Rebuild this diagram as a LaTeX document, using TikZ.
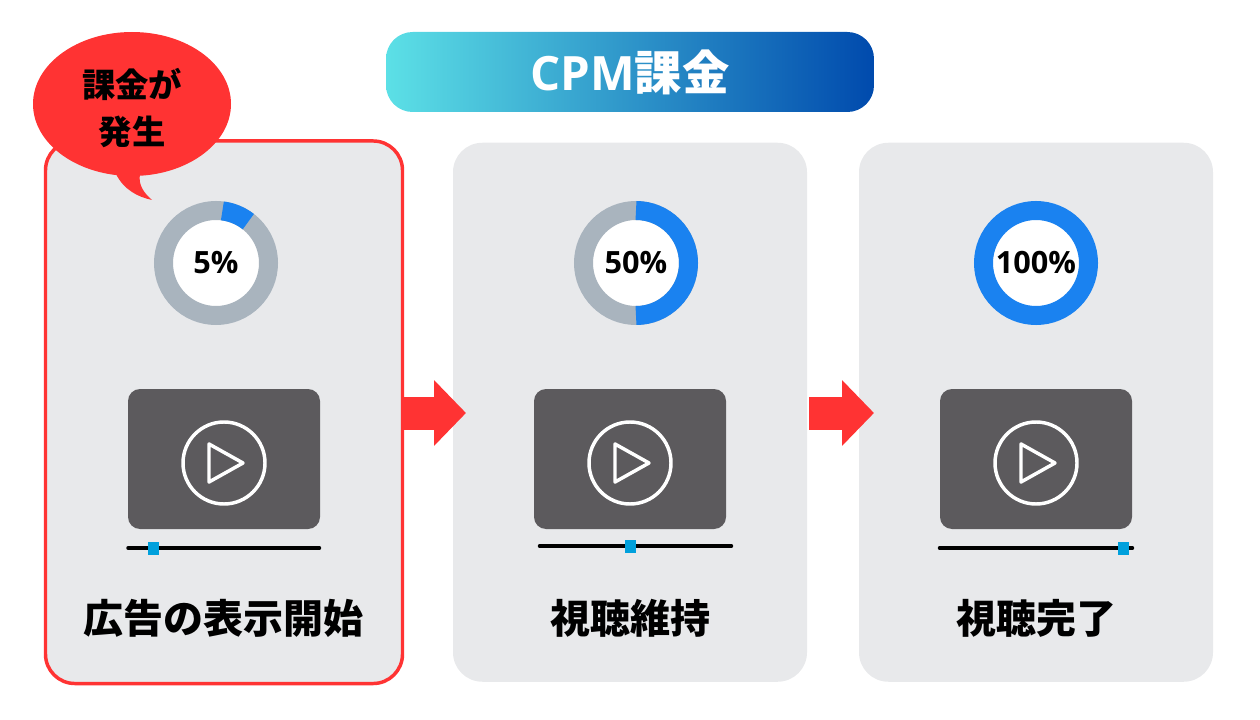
\documentclass[tikz,border=0pt]{standalone}
\usepackage{fontspec}
\usepackage{tikz}
\usetikzlibrary{arrows.meta, positioning, shapes.geometric}
\setmainfont{Open Sans}
\newfontfamily\cjk{Noto Sans CJK JP}
\definecolor{alertred}{HTML}{FF3333}
\definecolor{cardgray}{HTML}{E8E9EB}
\definecolor{ringgray}{HTML}{A9B4BE}
\definecolor{ringblue}{HTML}{1A82F0}
\definecolor{screengray}{HTML}{5C5A5D}
\definecolor{knobblue}{HTML}{00A0DC}
\definecolor{pillleft}{HTML}{5CE0E6}
\definecolor{pillright}{HTML}{004AAD}
\tikzset{
  card/.style={rectangle, rounded corners=22pt, fill=cardgray, outer sep=0pt,
    minimum width=265.5pt, minimum height=404.25pt},
  donut/.style={circle, draw=ringgray, fill=white, line width=14.25pt, inner sep=0pt,
    outer sep=0pt, minimum size=78.75pt, font=\bfseries\fontsize{23}{25}\selectfont},
  ringpart/.style={draw=ringblue, line width=14.25pt},
  screen/.style={rectangle, rounded corners=9pt, fill=screengray, outer sep=0pt,
    minimum width=144pt, minimum height=105pt},
  playring/.style={circle, draw=white, line width=2.6pt, outer sep=0pt, minimum size=61.5pt},
  seekbar/.style={line width=2.6pt, line cap=round},
  knob/.style={rectangle, fill=knobblue, inner sep=0pt, minimum width=8.25pt, minimum height=9.75pt},
  caption/.style={font=\cjk\bfseries\fontsize{30}{32}\selectfont},
  flow/.style={alertred, line width=24.75pt, -{Triangle[length=24pt, width=48pt]}}
}
\begin{document}
\begin{tikzpicture}[x=0.75pt, y=-0.75pt, node distance=304.5pt, on grid]
  \useasboundingbox (0,0) rectangle (1260,720);
  % title
  \node[rectangle, rounded corners=20pt, left color=pillleft, right color=pillright,
    minimum width=366pt, minimum height=60pt] (title) at (630,72) {};
  \node[white, font=\bfseries\fontsize{35.5}{38}\selectfont] (title_text) at (630,72)
    {CPM{\cjk 課金}};
  % cards
  \node[card, draw=alertred, line width=2.6pt, minimum width=267.75pt, minimum height=406.9pt]
    (card_1) at (224,412.25) {};
  \node[card] (card_2) [right=of card_1] {};
  \node[card] (card_3) [right=of card_2] {};
  % rings
  \node[donut] (donut_1) at (216,263) {5\%};
  \node[donut] (donut_2) at (636,263) {50\%};
  \node[donut, draw=ringblue] (donut_3) at (1036,263) {100\%};
  \draw[ringpart] ([shift={(-83:52.5)}]donut_1.center) arc[start angle=83, end angle=52, radius=39.375pt];
  \draw[ringpart] ([shift={(-90:52.5)}]donut_2.center) arc[start angle=90, end angle=-90, radius=39.375pt];
  % players
  \node[screen] (screen_1) at (224,459) {};
  \node[screen] (screen_2) at (630,459) {};
  \node[screen] (screen_3) at (1036,459) {};
  \node[playring] (play_1) at (224,463) {};
  \node[playring] (play_2) at (630,463) {};
  \node[playring] (play_3) at (1036,463) {};
  \foreach \n in {1,2,3}
    \draw[white, line width=2.6pt, line join=round]
      ([shift={(-15,-19)}]play_\n.center) -- ([shift={(19,0)}]play_\n.center)
      -- ([shift={(-15,19)}]play_\n.center) -- cycle;
  % seek bars
  \coordinate (bar_1a) at (128,548);
  \coordinate (bar_1b) at (319.5,548);
  \coordinate (bar_2a) at (539.5,546);
  \coordinate (bar_2b) at (731.5,546);
  \coordinate (bar_3a) at (939.5,548);
  \coordinate (bar_3b) at (1132.5,548);
  \draw[seekbar] (bar_1a) -- (bar_1b);
  \draw[seekbar] (bar_2a) -- (bar_2b);
  \draw[seekbar] (bar_3a) -- (bar_3b);
  \node[knob] (knob_1) at (153,548) {};
  \node[knob] (knob_2) at (630,546) {};
  \node[knob] (knob_3) at (1123,548) {};
  % captions
  \node[caption] (caption_1) at (223.5,618) {広告の表示開始};
  \node[caption] (caption_2) at (630,618) {視聴維持};
  \node[caption] (caption_3) at (1036,618) {視聴完了};
  % arrows
  \draw[flow, shorten >=-9.75pt] (card_1.east |- 0,413) -- (card_2.west |- 0,413);
  \draw[flow, shorten >=-11.25pt, shorten <=1.5pt] (card_2.east |- 0,413) -- (card_3.west |- 0,413);
  % bubble
  \node[ellipse, fill=alertred, inner sep=0pt, minimum width=148.5pt, minimum height=108pt] (bubble) at (132,104) {};
  \fill[alertred] (116,174) .. controls (124,190) and (138,197) .. (152,200)
    .. controls (144,193) and (138,185) .. (140,174) -- cycle;
  \node[font=\cjk\bfseries\fontsize{25}{35}\selectfont, align=center] (bubble_text) at (132,108) {課金が\\発生};
\end{tikzpicture}
\end{document}
